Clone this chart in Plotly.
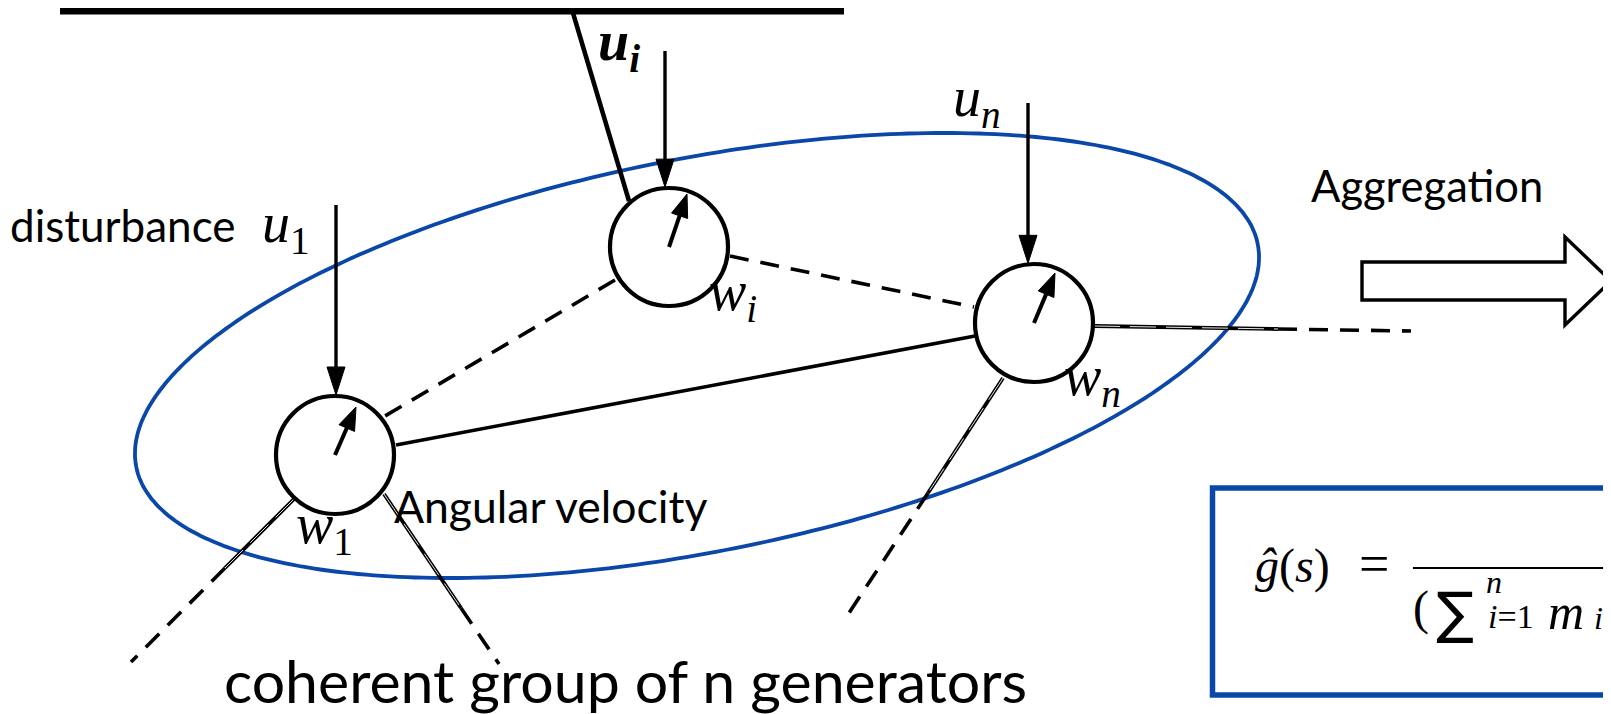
import numpy as np
import plotly.graph_objects as go

W, H = 1611, 714

# ---------------- diagram data ----------------
# generator nodes
node_x = [327, 661, 1026]
node_y = [447, 239, 315]
node_r = 59
# angular-velocity pointer tips (offset from node centre)
pointer_dx = [21, 18, 21]
pointer_dy = [-48, -53, -50]

# disturbance inputs (vertical arrows into nodes)
input_x = [328, 657, 1020]
input_top = [197, 43, 95]

# network edges: x0, y0, x1, y1, style
edges = [
    (607, 272, 377, 408, "dash"),    # i - 1
    (722, 248, 966, 299, "dash"),    # i - n
    (388, 437, 967, 328, "solid"),   # 1 - n
    (565, 5, 621, 193, "solid"),     # i - bus
]
# outgoing spokes: start, end of solid part, end of dashed part
spokes = [
    ((286, 491), (217, 560), (123, 654)),
    ((376, 486), (453, 600), (491, 656)),
    ((995, 370), (920, 485), (837, 611)),
    ((1086, 318), (1270, 321), (1403, 323)),
]
# top bus bar
bus = (52, 836, 3)

# coherent-group ellipse: centre, semi axes, rotation (deg)
ell_c = (689, 347.5)
ell_ab = (571.7, 196.4)
ell_rot = -11.24

BLUE = "#0a47a8"
TXT = "Lato"
MATH = "Liberation Serif"
SYM = "DejaVu Sans"

fig = go.Figure()
shapes = []
annotations = []


def line(x0, y0, x1, y1, width=3, dash="solid", color="black"):
    shapes.append(dict(type="line", xref="x", yref="y", x0=x0, y0=y0, x1=x1, y1=y1,
                       line=dict(color=color, width=width, dash=dash)))


def arrow(x0, y0, x1, y1, width=3, head_len=24, head_half=8):
    dx, dy = x1 - x0, y1 - y0
    L = np.hypot(dx, dy)
    ux, uy = dx / L, dy / L
    bx, by = x1 - ux * head_len, y1 - uy * head_len
    line(x0, y0, bx + ux * 2, by + uy * 2, width=width)
    nx, ny = -uy, ux
    p = (f"M {x1},{y1} L {bx + nx * head_half},{by + ny * head_half} "
         f"L {bx - nx * head_half},{by - ny * head_half} Z")
    shapes.append(dict(type="path", xref="x", yref="y", path=p,
                       fillcolor="black", line=dict(color="black", width=1)))


# ellipse
t = np.linspace(0, 2 * np.pi, 361)
th = np.deg2rad(ell_rot)
ex = ell_c[0] + ell_ab[0] * np.cos(t) * np.cos(th) - ell_ab[1] * np.sin(t) * np.sin(th)
ey = ell_c[1] + ell_ab[0] * np.cos(t) * np.sin(th) + ell_ab[1] * np.sin(t) * np.cos(th)
path = "M " + " L ".join(f"{a:.1f},{b:.1f}" for a, b in zip(ex, ey)) + " Z"
shapes.append(dict(type="path", xref="x", yref="y", path=path,
                   line=dict(color=BLUE, width=3.8)))

# bus bar
line(bus[0], bus[2], bus[1], bus[2], width=7)

# edges
for x0, y0, x1, y1, st in edges:
    line(x0, y0, x1, y1, width=4.5 if y0 < 20 else 3.6,
         dash="19px,12px" if st == "dash" else "solid")

# spokes (solid part drawn as a doubled line, then dashed continuation)
for (a, b, c) in spokes:
    line(a[0], a[1], b[0], b[1], width=3.8)
    line(a[0], a[1], b[0], b[1], width=0.9, color="white", dash="26px,10px")
    line(b[0], b[1], c[0], c[1], width=3.6, dash="19px,12px")

# nodes
for cx, cy in zip(node_x, node_y):
    shapes.append(dict(type="circle", xref="x", yref="y",
                       x0=cx - node_r, x1=cx + node_r, y0=cy - node_r, y1=cy + node_r,
                       fillcolor="white", line=dict(color="black", width=4.2)))

# pointers
for cx, cy, dx, dy in zip(node_x, node_y, pointer_dx, pointer_dy):
    arrow(cx, cy, cx + dx, cy + dy, width=4, head_len=23, head_half=8.5)

# disturbance inputs
for k, (ix, top) in enumerate(zip(input_x, input_top)):
    tip = node_y[k] - np.sqrt(node_r ** 2 - (ix - node_x[k]) ** 2) - 1
    arrow(ix, top, ix, tip, width=3.4, head_len=28, head_half=9)

# aggregation block arrow
shapes.append(dict(type="path", xref="x", yref="y",
                   path="M 1354,254 L 1557,254 L 1557,229 L 1603,273 L 1557,317 L 1557,292 L 1354,292 Z",
                   fillcolor="white", line=dict(color="black", width=3.4)))

# formula box
shapes.append(dict(type="rect", xref="x", yref="y", x0=1204.5, y0=480, x1=1630, y1=687,
                   line=dict(color=BLUE, width=5.5)))
line(1405, 560, 1630, 560, width=2)


def ann(text, x, y, size, family, xanchor="left", yanchor="middle"):
    annotations.append(dict(text=text, x=x, y=y, xref="x", yref="y", showarrow=False,
                            xanchor=xanchor, yanchor=yanchor,
                            font=dict(size=size, family=family, color="black")))


# plain text
ann("disturbance", 0, 217, 44, TXT)
ann("Aggregation", 1301, 177, 43.5, TXT)
ann("Angular velocity", 384, 497, 44.5, TXT)
ann("coherent group of n generators", 214, 672, 59, TXT)

# math labels
LS = 56
ann("<i>u</i><sub>1</sub>", 252, 219, LS, MATH)
ann("<b><i>u</i></b><sub><b><i>i</i></b></sub>", 588, 37, LS, MATH)
ann("<i>u</i><sub><i>n</i></sub>", 943, 93, LS, MATH)
ann("<i>w</i><sub>1</sub>", 286, 520, LS, MATH)
ann("<i>w</i><sub><i>i</i></sub>", 699, 287, LS, MATH)
ann("<i>w</i><sub><i>n</i></sub>", 1054, 372, LS, MATH)

# formula
ann("<i>ĝ</i>(<i>s</i>)", 1245, 558, 48, MATH)
ann("=", 1366, 556, 54, MATH, xanchor="center")
ann("(", 1413, 600, 48, MATH, xanchor="center")
ann("∑", 1447, 604, 56, SYM, xanchor="center")
ann("<i>n</i>", 1486, 574, 32, MATH, xanchor="center")
ann("<i>i</i>=1", 1503, 608, 34, MATH, xanchor="center")
ann("<i>m</i>", 1558, 604, 50, MATH, xanchor="center")
ann("<i>i</i>", 1590, 610, 32, MATH, xanchor="center")

fig.update_layout(
    width=W, height=H, margin=dict(l=0, r=0, t=0, b=0),
    paper_bgcolor="white", plot_bgcolor="white",
    xaxis=dict(range=[0, W], visible=False, fixedrange=True),
    yaxis=dict(range=[H, 0], visible=False, fixedrange=True),
    shapes=shapes, annotations=annotations, showlegend=False,
)

fig.write_html("out.html")
